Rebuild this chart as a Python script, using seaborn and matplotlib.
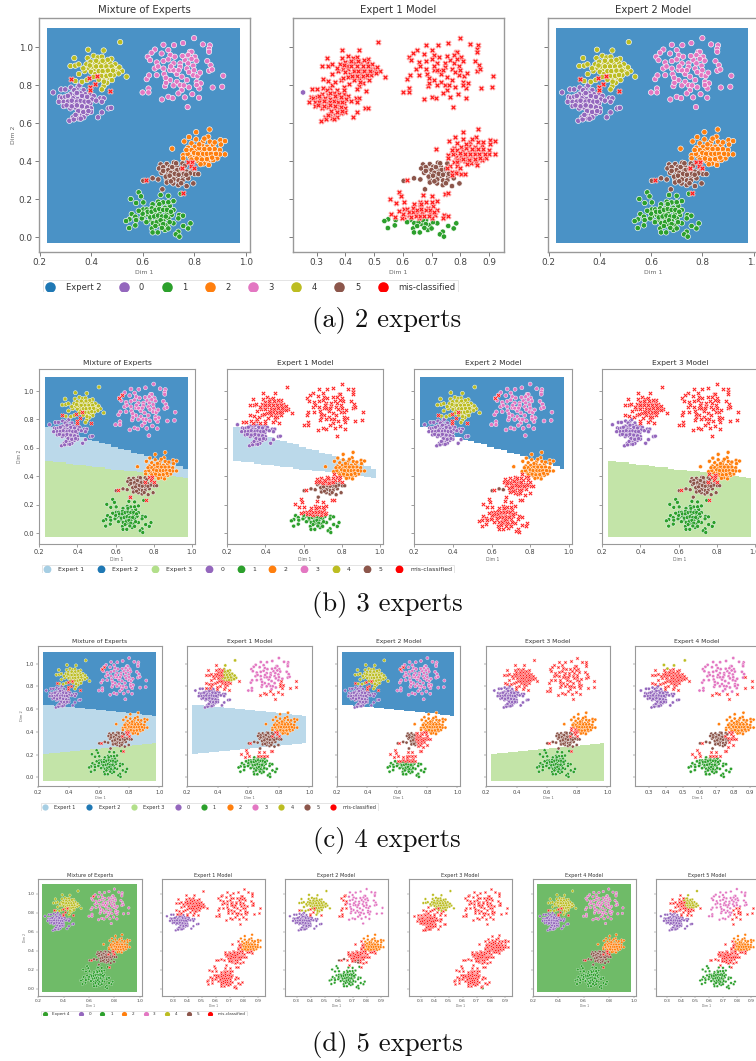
import numpy as np
import pandas as pd
import matplotlib
matplotlib.use("Agg")
import matplotlib.pyplot as plt
from matplotlib.colors import ListedColormap
from matplotlib.lines import Line2D
from matplotlib.patches import Rectangle
import seaborn as sns

cluster_0 = [(.253,.763),(.284,.779),(.30,.779),(.322,.789),(.348,.789),(.355,.80),(.335,.775),(.371,.775),
 (.279,.74),(.288,.735),(.30,.74),(.32,.753),(.339,.749),(.359,.758),(.378,.753),(.397,.753),(.41,.744),
 (.275,.714),(.294,.714),(.313,.728),(.33,.732),(.348,.728),(.369,.732),(.387,.728),(.404,.726),(.436,.732),(.449,.732),(.442,.714),
 (.294,.691),(.316,.70),(.335,.705),(.356,.705),(.378,.702),(.397,.705),
 (.32,.679),(.339,.684),(.359,.679),(.378,.674),(.40,.679),(.468,.679),(.478,.682),
 (.348,.649),(.365,.644),(.384,.653),(.371,.632),(.352,.626),(.33,.632),(.316,.614),(.333,.621),(.427,.632),(.40,.661),(.442,.658),
 (.31,.715),(.325,.72),(.345,.715),(.36,.72),(.375,.715),(.39,.715),(.305,.695),(.325,.69),(.345,.695),(.365,.69),(.385,.685),
 (.31,.745),(.345,.76),(.365,.745),(.385,.74),(.35,.665),(.37,.66),(.39,.665),(.42,.72),(.34,.645),(.36,.625)]
cluster_1 = [(.585,.237),(.554,.202),(.594,.216),(.67,.223),(.70,.219),(.748,.23),
 (.575,.181),(.603,.184),(.639,.174),(.661,.188),(.68,.184),(.72,.191),
 (.558,.123),(.603,.147),(.616,.147),(.636,.153),(.661,.161),(.687,.156),(.706,.165),(.72,.144),
 (.572,.109),(.549,.095),(.536,.086),(.603,.109),(.622,.118),(.648,.126),(.668,.135),(.694,.126),(.713,.118),(.742,.118),(.757,.114),
 (.575,.091),(.597,.10),(.629,.091),(.655,.10),(.681,.091),(.70,.10),(.739,.10),
 (.548,.049),(.572,.063),(.636,.047),(.665,.07),(.694,.065),(.72,.074),(.786,.074),(.758,.06),(.777,.047),
 (.639,.026),(.659,.026),(.687,.039),(.70,.047),(.739,.03),(.729,.016),(.743,.004),
 (.62,.135),(.635,.135),(.65,.145),(.665,.15),(.68,.145),(.695,.145),(.63,.105),(.645,.11),(.66,.115),(.675,.11),(.69,.11),(.71,.135),
 (.615,.08),(.64,.075),(.655,.08),(.67,.09),(.68,.07),(.705,.08),(.65,.06),(.675,.05),(.665,.175),(.70,.185),(.60,.125),(.585,.14)]
cluster_2 = [(.86,.568),(.808,.554),(.78,.528),(.855,.53),(.715,.467),
 (.762,.505),(.79,.495),(.808,.516),(.834,.504),(.861,.504),(.902,.512),(.92,.507),
 (.777,.472),(.803,.477),(.831,.482),(.851,.477),(.874,.486),(.904,.489),
 (.758,.433),(.78,.446),(.81,.456),(.829,.451),(.848,.456),(.874,.451),(.90,.46),(.92,.437),
 (.758,.416),(.784,.425),(.803,.428),(.822,.425),(.842,.428),(.861,.425),(.89,.416),(.90,.437),
 (.816,.402),(.835,.407),(.855,.398),(.874,.407),(.857,.381),(.797,.407),(.837,.389),
 (.79,.46),(.80,.445),(.815,.44),(.835,.44),(.85,.44),(.865,.44),(.88,.465),(.79,.41),(.81,.415),(.83,.41),(.85,.412),
 (.87,.42),(.82,.47),(.84,.465),(.86,.465),(.885,.44),(.775,.44),(.77,.46),(.82,.49),(.84,.52),(.88,.5),(.825,.385)]
cluster_3 = [(.80,1.049),(.681,1.014),(.722,1.012),(.757,1.023),(.834,1.016),(.861,1.011),(.858,.993),(.858,.977),
 (.648,.989),(.635,.972),(.62,.951),(.674,.968),(.70,.986),(.708,.96),(.725,.951),(.784,.977),(.79,.977),(.777,.96),(.803,.951),(.851,.928),
 (.629,.933),(.655,.921),(.681,.928),(.70,.937),(.72,.916),(.746,.916),(.765,.933),(.777,.916),(.809,.93),(.864,.907),
 (.647,.889),(.681,.889),(.707,.881),(.727,.875),(.746,.898),(.772,.889),(.797,.904),(.858,.877),(.87,.884),
 (.616,.833),(.625,.853),(.655,.854),(.684,.86),(.707,.828),(.733,.86),(.752,.846),(.772,.828),(.797,.854),(.813,.849),(.823,.867),(.913,.851),
 (.60,.763),(.623,.784),(.623,.763),(.687,.796),(.691,.814),(.733,.819),(.746,.802),(.752,.775),(.81,.819),(.826,.811),(.82,.784),(.872,.789),(.909,.793),(.81,.802),
 (.675,.726),(.70,.74),(.717,.733),(.764,.737),(.793,.754),(.819,.735),(.775,.686),(.739,.758),
 (.66,.90),(.72,.88),(.74,.88),(.78,.87),(.80,.88),(.69,.84),(.72,.80),(.76,.80),(.78,.79),(.71,.90),(.755,.955),(.79,.94)]
cluster_4 = [(.513,1.028),(.389,.988),(.449,.984),(.335,.944),(.387,.944),(.41,.956),(.426,.947),(.442,.951),(.479,.94),
 (.32,.902),(.339,.904),(.352,.911),(.382,.911),(.398,.925),(.416,.916),(.432,.919),(.455,.916),(.475,.916),(.494,.911),
 (.391,.889),(.41,.884),(.429,.889),(.451,.886),(.468,.889),(.487,.889),(.503,.886),(.52,.875),
 (.353,.86),(.40,.872),(.416,.86),(.436,.86),(.455,.868),(.475,.867),(.494,.872),(.507,.863),(.538,.846),
 (.339,.823),(.365,.819),(.384,.828),(.449,.837),(.468,.842),(.481,.828),(.462,.814),(.449,.796),(.442,.779),(.488,.854),
 (.405,.9),(.42,.9),(.44,.9),(.46,.9),(.48,.9),(.43,.875),(.445,.875),(.465,.878),(.485,.878),(.425,.845),(.44,.85),(.46,.85),
 (.475,.855),(.43,.83),(.45,.82),(.41,.845),(.395,.905),(.445,.93),(.465,.935),(.42,.93),(.375,.875),(.37,.89),(.51,.895)]
cluster_5 = [(.67,.384),(.694,.386),(.722,.393),(.755,.389),(.664,.363),(.687,.358),(.706,.372),(.732,.372),(.764,.377),
 (.674,.34),(.70,.34),(.722,.354),(.745,.346),(.771,.346),(.79,.346),(.803,.333),(.816,.333),
 (.694,.302),(.713,.319),(.732,.323),(.758,.319),(.784,.337),(.694,.289),(.719,.284),(.739,.275),(.771,.27),(.797,.284),(.777,.311),
 (.603,.298),(.639,.311),(.661,.305),(.677,.253),(.728,.354),
 (.68,.37),(.70,.355),(.715,.37),(.735,.355),(.75,.36),(.71,.34),(.725,.335),(.74,.33),(.76,.335),(.69,.32),(.705,.325),
 (.72,.305),(.74,.30),(.755,.30),(.77,.33),(.68,.35),(.73,.39),(.71,.295),(.75,.285)]
misclassified = [(.321,.833),(.393,.84),(.424,.849),(.414,.807),(.397,.791),(.397,.775),(.473,.772),
 (.777,.395),(.79,.395),(.788,.377),(.80,.363),(.752,.363),(.614,.304),(.758,.232)]

class_names = ["0", "1", "2", "3", "4", "5"]
class_colors = ["#9467bd", "#2ca02c", "#ff7f0e", "#e377c2", "#bcbd22", "#8c564b"]
clusters = [cluster_0, cluster_1, cluster_2, cluster_3, cluster_4, cluster_5]
expert_colors = {"Expert 1": "#a6cee3", "Expert 2": "#1f78b4", "Expert 3": "#b2df8a", "Expert 4": "#33a02c"}
region_colors = {"Expert 1": "#bbd9ea", "Expert 2": "#4a92c6", "Expert 3": "#c3e4a8", "Expert 4": "#6fbb68"}
row_captions = ["(a) 2 experts", "(b) 3 experts", "(c) 4 experts", "(d) 5 experts"]

# decision-region boundaries: y at the left and right end of the sampled area
b_upper = (.74, .44); b_lower = (.50, .38)
c_upper = (.63, .535); c_lower = (.205, .30)
top = (1.10, 1.10); bottom = (-.03, -.03)

# Where each expert's points keep their class colour: class -> boxes (xmin,xmax,ymin,ymax).
# Absent class: all keep colour. Empty list: all red.
panels = [
 # row a
 dict(title="Mixture of Experts", box=(39,250,18,252), bg=[("Expert 2",bottom,top)]),
 dict(title="Expert 1 Model", box=(293,504,18,252), keep={"0":[(0,.26,0,2)],"1":[(0,2,-1,.098)],"2":[],"3":[],"4":[],"5":[(0,.76,-1,2),(0,.85,-1,.315)]}),
 dict(title="Expert 2 Model", box=(548,758,18,252), bg=[("Expert 2",bottom,top)]),
 # row b
 dict(title="Mixture of Experts", box=(39,195,369,544), bg=[("Expert 2",b_upper,top),("Expert 1",b_lower,b_upper),("Expert 3",bottom,b_lower)], extra=[(.635,.972),(.62,.951),(.677,.253)]),
 dict(title="Expert 1 Model", box=(227,383,369,544), bg=[("Expert 1",b_lower,b_upper)], keep={"0":[(0,2,-1,.77)],"1":[(0,2,-1,.125)],"2":[(.772,2,-1,2),(0,2,.43,2)],"3":[],"4":[],"5":[(0,2,-1,.352)]}),
 dict(title="Expert 2 Model", box=(414,572,369,544), bg=[("Expert 2",b_upper,top)], extra=[(.635,.972),(.62,.951)], keep={"1":[],"2":[(.772,2,-1,2),(0,2,.43,2)],"5":[(0,.665,0,.325)]}),
 dict(title="Expert 3 Model", box=(602,758,369,544), bg=[("Expert 3",bottom,b_lower)], keep={"2":[(.80,2,-1,2),(0,2,.42,2)],"3":[],"4":[]}),
 # row c
 dict(title="Mixture of Experts", box=(38,162,646,786), bg=[("Expert 2",c_upper,top),("Expert 1",c_lower,c_upper),("Expert 3",bottom,c_lower)], extra=[(.635,.972),(.62,.951)]),
 dict(title="Expert 1 Model", box=(187,312,646,786), bg=[("Expert 1",c_lower,c_upper)], keep={"0":[(0,2,-1,.78)],"1":[(0,2,-1,.175)],"3":[(0,.80,.76,2),(0,2,.86,2)],"4":[(.43,2,.85,2)]}),
 dict(title="Expert 2 Model", box=(337,460,646,786), bg=[("Expert 2",c_upper,top)], extra=[(.635,.972),(.62,.951)], keep={"1":[(0,2,-1,.14)],"5":[(0,.72,-1,2)]}),
 dict(title="Expert 3 Model", box=(486,610,646,786), bg=[("Expert 3",bottom,c_lower)], keep={"2":[(.80,2,-1,2),(0,2,.44,2)],"3":[],"4":[]}),
 dict(title="Expert 4 Model", box=(635,759,646,786), keep={"1":[(0,2,-1,.175)],"2":[(.0,2,.36,2)],"3":[(0,.86,.75,2),(0,2,.9,2)],"4":[(0,2,.955,2)],"5":[(0,.77,-1,2)]}),
 # row d
 dict(title="Mixture of Experts", box=(38,142,879,996), bg=[("Expert 4",bottom,top)], extra=[(.635,.972)]),
 dict(title="Expert 1 Model", box=(162,265,879,996), keep={"0":[(0,2,-1,.78)],"1":[],"2":[(.78,2,.40,2)],"3":[],"4":[],"5":[]}),
 dict(title="Expert 2 Model", box=(285,388,879,996), keep={"2":[(.78,2,.40,2)],"3":[(.66,2,-1,2)],"5":[(.70,.74,-1,.3),(0,.66,-1,.32)]}),
 dict(title="Expert 3 Model", box=(409,512,879,996), keep={"0":[],"1":[(.74,.75,-1,.01)],"2":[],"3":[],"4":[(.40,2,.82,2),(0,2,.87,2)],"5":[]}),
 dict(title="Expert 4 Model", box=(533,636,879,996), bg=[("Expert 4",bottom,top)]),
 dict(title="Expert 5 Model", box=(656,758,879,996), keep={"2":[(.78,2,.40,2)],"3":[(0,.76,-1,2),(0,2,.86,2)],"4":[(.42,2,.85,2)],"5":[]}),
]
row_of = [0]*3 + [1]*4 + [2]*5 + [3]*6
row_first = [0, 3, 7, 12]
row_scale = [1.0, .74, .59, .49]
captions_y = [321, 604, 841, 1045]
legend_spec = [
 (["Expert 2"], 43, 280, 292, 456, 6.0),
 (["Expert 1","Expert 2","Expert 3"], 42, 565, 573, 457, 4.4),
 (["Expert 1","Expert 2","Expert 3"], 41, 803, 811, 374, 3.6),
 (["Expert 4"], 41, 1011, 1016, 247, 3.0),
]

W, H = 756, 1061
sns.set_theme(style="white")
fig = plt.figure(figsize=(W/100, H/100), dpi=100, facecolor="white")

def add_axes(b):
    l, r, t, bt = b
    return fig.add_axes([l/W, 1-bt/H, (r-l)/W, (bt-t)/H])

def draw_regions(ax, regions):
    xe = np.arange(.23, .986, .0085)
    ye = np.arange(-.03, 1.101, .0085)
    gx, gy = np.meshgrid(xe[:-1], ye[:-1])
    fxq = np.floor((gx-.23)/(.985-.23)*22)/22
    for name, lo, hi in regions:
        ylo = lo[0] + (lo[1]-lo[0])*fxq
        yhi = hi[0] + (hi[1]-hi[0])*fxq
        z = np.ma.masked_where(~((gy >= ylo) & (gy < yhi)), np.ones_like(gx))
        ax.pcolormesh(xe, ye, z, cmap=ListedColormap([region_colors[name]]), antialiased=False, linewidth=0)

for idx, p in enumerate(panels):
    row = row_of[idx]
    sc = row_scale[row]
    ax = add_axes(p["box"])
    bg = p.get("bg")
    if bg:
        draw_regions(ax, bg)
    keep = p.get("keep", {})
    rows = []
    for name, pts in zip(class_names, clusters):
        boxes = keep.get(name)
        for x, y in pts:
            if boxes is None or any(a <= x <= b and c <= y <= d for a, b, c, d in boxes):
                rows.append((x, y, name))
            else:
                rows.append((x, y, "mis-classified"))
    for x, y in misclassified + p.get("extra", []):
        rows.append((x, y, "mis-classified"))
    df = pd.DataFrame(rows, columns=["x", "y", "label"])
    s = 15*sc**2
    true_df = df[df.label != "mis-classified"]
    sns.scatterplot(data=true_df, x="x", y="y", hue="label", palette=dict(zip(class_names, class_colors)),
                    s=s, edgecolor="white", linewidth=.45*sc, ax=ax, legend=False)
    red_df = df[df.label == "mis-classified"]
    sns.scatterplot(data=red_df, x="x", y="y", color="#ff1a1a", marker="X", s=s*1.1,
                    edgecolor="#ffd0d0", linewidth=.45*sc, ax=ax, legend=False)
    if bg:
        ax.set_xlim(.198, 1.017)
        ax.set_xticks([.2, .4, .6, .8, 1.0])
    else:
        ax.set_xlim(.218, .952)
        ax.set_xticks([.3, .4, .5, .6, .7, .8, .9])
    ax.set_ylim(-.077, 1.155)
    ax.set_yticks([0, .2, .4, .6, .8, 1.0])
    first = idx == row_first[row]
    ax.tick_params(axis="both", labelsize=6.4*sc, length=2.6*sc, width=.6*sc, color="#666666",
                   labelcolor="#444444", pad=2*sc, bottom=True, left=True, labelleft=first)
    ax.set_xlabel("Dim 1", fontsize=4.4*sc, color="#666666", labelpad=2*sc)
    ax.set_ylabel("Dim 2" if first else "", fontsize=4.4*sc, color="#666666", labelpad=2*sc)
    ax.set_title(p["title"], fontsize=7.3*sc, color="#333333", pad=3.5*sc)
    for sp in ax.spines.values():
        sp.set_color("#999999")
        sp.set_linewidth(1.0*max(sc, .8))

for row, (exps, x0, y0, ycut, x1, fs) in enumerate(legend_spec):
    hs = 7.6*row_scale[row]
    handles = [Line2D([], [], marker="o", ls="none", color=expert_colors[e], markersize=hs, markeredgewidth=0) for e in exps]
    labels = list(exps)
    for n, c in zip(class_names, class_colors):
        handles.append(Line2D([], [], marker="o", ls="none", color=c, markersize=hs, markeredgewidth=0))
        labels.append(n)
    handles.append(Line2D([], [], marker="o", ls="none", color="#ff0000", markersize=hs, markeredgewidth=0))
    labels.append("mis-classified")
    leg = fig.legend(handles, labels, loc="upper left", bbox_to_anchor=(x0/W, 1-y0/H), ncol=len(labels),
                     frameon=True, fancybox=False, fontsize=fs, handlelength=1, handletextpad=1.35,
                     columnspacing=2.2, borderpad=.35, borderaxespad=0, labelcolor="#333333")
    leg.get_frame().set_edgecolor("#dddddd")
    leg.get_frame().set_linewidth(.7)
    fig.add_artist(Rectangle((0, 1-(ycut+8)/H), 1, 8/H, transform=fig.transFigure, color="white", zorder=10, lw=0))

for cap, y in zip(row_captions, captions_y):
    fig.text(387/W, 1-y/H, cap, family="cmr10", fontsize=19.2, color="#111111", ha="center", va="center", zorder=11)

fig.savefig("out.png", dpi=100)
